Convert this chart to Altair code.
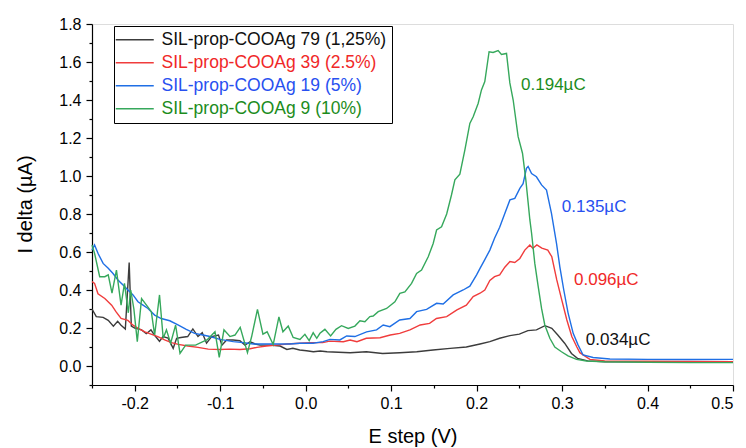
import altair as alt
import pandas as pd

series_names = [
    "SIL-prop-COOAg 79 (1,25%)",
    "SIL-prop-COOAg 39 (2.5%)",
    "SIL-prop-COOAg 19 (5%)",
    "SIL-prop-COOAg 9 (10%)",
]
line_colors = ["#3c3c3c", "#f03c3c", "#1f6fe5", "#36a85c"]
label_colors = ["#111111", "#f02828", "#2850f0", "#1c8c1c"]

black = [(-0.25,0.30),(-0.245,0.26),(-0.237,0.256),(-0.231,0.24),(-0.225,0.21),(-0.22,0.235),(-0.216,0.215),
         (-0.211,0.195),(-0.2065,0.545),(-0.204,0.21),(-0.2,0.2),(-0.192,0.19),(-0.1865,0.17),(-0.181,0.19),
         (-0.177,0.163),(-0.171,0.13),(-0.167,0.155),(-0.161,0.147),(-0.155,0.093),(-0.151,0.146),(-0.146,0.15),
         (-0.138,0.155),(-0.132,0.195),(-0.126,0.155),(-0.121,0.175),(-0.116,0.12),(-0.11,0.155),(-0.102,0.163),
         (-0.098,0.11),(-0.0925,0.137),(-0.085,0.137),(-0.077,0.133),(-0.071,0.11),(-0.065,0.128),(-0.059,0.116),
         (-0.0535,0.11),(-0.042,0.11),(-0.03,0.105),(-0.022,0.087),(-0.015,0.093),(-0.007,0.084),(0.001,0.08),
         (0.009,0.075),(0.017,0.079),(0.025,0.075),(0.052,0.07),(0.071,0.075),(0.09,0.066),(0.11,0.07),
         (0.13,0.075),(0.149,0.084),(0.169,0.093),(0.188,0.10),(0.204,0.116),(0.2155,0.128),(0.227,0.146),
         (0.239,0.16),(0.25,0.168),(0.26,0.186),(0.27,0.19),(0.28,0.212),(0.288,0.198),(0.295,0.163),
         (0.303,0.12),(0.311,0.066),(0.318,0.04),(0.33,0.027),(0.35,0.022),(0.4,0.022),(0.45,0.02),(0.5,0.02)]

red = [(-0.25,0.445),(-0.247,0.435),(-0.243,0.38),(-0.235,0.355),(-0.227,0.32),(-0.222,0.286),(-0.216,0.25),
       (-0.208,0.24),(-0.202,0.215),(-0.196,0.198),(-0.188,0.18),(-0.181,0.168),(-0.173,0.155),(-0.165,0.137),
       (-0.157,0.123),(-0.149,0.114),(-0.138,0.105),(-0.126,0.098),(-0.114,0.089),(-0.1,0.087),(-0.089,0.089),
       (-0.077,0.087),(-0.065,0.091),(-0.057,0.098),(-0.046,0.105),(-0.034,0.11),(-0.022,0.116),(-0.007,0.12),
       (0.005,0.123),(0.02,0.123),(0.028,0.131),(0.044,0.128),(0.052,0.137),(0.06,0.128),(0.071,0.146),
       (0.087,0.149),(0.099,0.163),(0.11,0.172),(0.122,0.19),(0.134,0.216),(0.145,0.224),(0.153,0.25),
       (0.165,0.26),(0.177,0.295),(0.188,0.32),(0.196,0.365),(0.204,0.383),(0.2096,0.4),(0.2155,0.45),
       (0.221,0.47),(0.227,0.48),(0.233,0.52),(0.239,0.55),(0.2447,0.545),(0.2506,0.566),(0.2564,0.61),
       (0.2623,0.637),(0.2658,0.62),(0.2705,0.637),(0.2763,0.62),(0.2833,0.61),(0.288,0.575),(0.2938,0.453),
       (0.2997,0.347),(0.3056,0.242),(0.3114,0.155),(0.3173,0.1),(0.3208,0.07),(0.3325,0.035),(0.35,0.026),
       (0.4,0.025),(0.45,0.024),(0.5,0.023)]

blue = [(-0.25,0.61),(-0.247,0.637),(-0.243,0.593),(-0.237,0.54),(-0.231,0.514),(-0.2254,0.487),(-0.2196,0.453),
        (-0.2137,0.426),(-0.2079,0.4),(-0.202,0.374),(-0.1962,0.338),(-0.1903,0.32),(-0.1845,0.303),(-0.1767,0.268),
        (-0.169,0.25),(-0.159,0.238),(-0.1494,0.216),(-0.1397,0.193),(-0.1299,0.172),(-0.1202,0.163),(-0.112,0.155),
        (-0.1003,0.14),(-0.0847,0.128),(-0.073,0.123),(-0.0613,0.116),(-0.0457,0.116),(-0.03,0.116),(-0.0184,0.116),
        (-0.0067,0.12),(0.0088,0.12),(0.0205,0.128),(0.0284,0.14),(0.04,0.137),(0.048,0.158),(0.0576,0.155),
        (0.0713,0.18),(0.083,0.19),(0.0907,0.216),(0.0985,0.207),(0.11,0.242),(0.122,0.25),(0.1298,0.286),
        (0.1415,0.298),(0.1532,0.33),(0.1609,0.326),(0.1726,0.374),(0.1843,0.4),(0.1921,0.42),(0.2,0.48),
        (0.204,0.514),(0.2096,0.56),(0.2155,0.61),(0.221,0.672),(0.227,0.73),(0.233,0.803),(0.239,0.874),
        (0.2447,0.882),(0.2506,0.935),(0.2544,0.96),(0.2583,1.04),(0.2603,1.05),(0.2643,1.013),(0.27,0.996),
        (0.276,0.953),(0.2818,0.926),(0.2876,0.803),(0.2935,0.645),(0.2974,0.522),(0.302,0.4),(0.307,0.28),
        (0.313,0.172),(0.3188,0.11),(0.3246,0.058),(0.3363,0.045),(0.356,0.037),(0.4,0.035),(0.45,0.034),
        (0.5,0.035)]

green = [(-0.25,0.637),(-0.247,0.593),(-0.241,0.47),(-0.235,0.47),(-0.231,0.48),(-0.2266,0.383),(-0.2214,0.505),
         (-0.216,0.32),(-0.212,0.435),(-0.2075,0.28),(-0.2047,0.4),(-0.201,0.3),(-0.197,0.128),(-0.192,0.355),
         (-0.1845,0.31),(-0.1806,0.286),(-0.1767,0.163),(-0.171,0.374),(-0.1667,0.146),(-0.1629,0.19),
         (-0.158,0.12),(-0.1522,0.215),(-0.147,0.066),(-0.1404,0.11),(-0.1288,0.11),(-0.1202,0.128),
         (-0.1155,0.137),(-0.1061,0.18),(-0.1011,0.045),(-0.0956,0.19),(-0.0886,0.155),(-0.0827,0.163),
         (-0.0766,0.203),(-0.0681,0.07),(-0.0632,0.155),(-0.0564,0.298),(-0.05,0.168),(-0.0451,0.18),
         (-0.038,0.113),(-0.0313,0.258),(-0.0266,0.18),(-0.0204,0.21),(-0.0146,0.15),(-0.0067,0.14),
         (-0.0009,0.167),(0.0041,0.134),(0.0088,0.175),(0.013,0.146),(0.0167,0.172),(0.0225,0.193),
         (0.0292,0.158),(0.0354,0.193),(0.042,0.212),(0.0498,0.198),(0.0576,0.21),(0.0635,0.238),(0.0693,0.233),
         (0.0751,0.26),(0.079,0.263),(0.0849,0.286),(0.0947,0.303),(0.1044,0.338),(0.1102,0.382),(0.1161,0.39),
         (0.1239,0.435),(0.1298,0.487),(0.1356,0.505),(0.1434,0.575),(0.1492,0.645),(0.1532,0.716),
         (0.159,0.733),(0.165,0.8),(0.1706,0.9),(0.1746,0.98),(0.1804,1.01),(0.1863,1.137),(0.1921,1.277),
         (0.196,1.312),(0.2018,1.382),(0.2057,1.453),(0.2096,1.497),(0.2146,1.654),(0.2193,1.65),(0.2252,1.66),
         (0.2291,1.64),(0.235,1.645),(0.2389,1.49),(0.2428,1.4),(0.2486,1.207),(0.2537,1.12),(0.2576,0.98),
         (0.2603,0.86),(0.2623,0.77),(0.2643,0.7),(0.2681,0.54),(0.272,0.42),(0.276,0.303),(0.2798,0.216),
         (0.2857,0.146),(0.2915,0.1),(0.2993,0.075),(0.307,0.053),(0.3169,0.035),(0.3285,0.026),(0.35,0.022),
         (0.4,0.02),(0.45,0.018),(0.5,0.018)]

ann_text = ["0.194µC", "0.135µC", "0.096µC", "0.034µC"]
ann_x = [0.252, 0.2997, 0.314, 0.3278]
ann_y = [1.479, 0.837, 0.453, 0.137]
ann_colors = [label_colors[3], label_colors[2], label_colors[1], label_colors[0]]

x_major = [-0.2, -0.1, 0.0, 0.1, 0.2, 0.3, 0.4, 0.5]
x_minor = [-0.25, -0.15, -0.05, 0.05, 0.15, 0.25, 0.35, 0.45]
y_major = [0.0, 0.2, 0.4, 0.6, 0.8, 1.0, 1.2, 1.4, 1.6, 1.8]
y_minor = [-0.1, 0.1, 0.3, 0.5, 0.7, 0.9, 1.1, 1.3, 1.5, 1.7]

rows = []
for name, pts in zip(series_names, [black, red, blue, green]):
    for i, (xv, yv) in enumerate(pts):
        rows.append({"series": name, "E": xv, "I": yv, "k": i})
df = pd.DataFrame(rows)
ann_df = pd.DataFrame({"E": ann_x, "I": ann_y, "t": ann_text, "c": ann_colors})

FONT = "Liberation Sans"
MINUS = "\u2212"

common = dict(grid=False, domainColor="black", tickColor="black", domainWidth=1.2, tickWidth=1.2,
              labelColor="black", labelFont=FONT, labelFontSize=16, labelOverlap=False,
              titleFont=FONT, titleFontSize=20, titleFontWeight="normal", titleColor="black")

x_axis = alt.Axis(
    values=x_major, format=".1f", labelExpr=f"replace(datum.label, '{MINUS}', '-')",
    tickSize=6, labelPadding=4, orient="bottom",
    titleBaseline="middle", titleY=51, **common,
)
y_axis = alt.Axis(
    values=y_major, format=".1f", labelExpr=f"replace(datum.label, '{MINUS}', '-')",
    tickSize=6, labelPadding=5, orient="left",
    titleBaseline="middle", titleX=-67, titleY=180, **common,
)
x_axis_minor = alt.Axis(values=x_minor, tickSize=3, tickWidth=1.2, tickColor="black", labels=False,
                        domain=False, grid=False, title=None, orient="bottom")
y_axis_minor = alt.Axis(values=y_minor, tickSize=3, tickWidth=1.2, tickColor="black", labels=False,
                        domain=False, grid=False, title=None, orient="left")

color_expr = " : ".join(
    f"datum.value === '{n}' ? '{c}'" for n, c in zip(series_names, label_colors)
) + " : 'black'"

legend = alt.Legend(
    title=None, orient="none", legendX=22, legendY=2,
    symbolType="M-2.4,0H5.2", symbolSize=100, symbolStrokeWidth=1.4,
    labelFont=FONT, labelFontSize=17.5, labelOffset=25, labelLimit=400,
    labelColor=alt.ExprRef(color_expr),
    padding=5, rowPadding=4, strokeColor="black", fillColor="white",
)

xs = alt.Scale(domain=[-0.25, 0.5], nice=False, zero=False)
ys = alt.Scale(domain=[-0.1, 1.8], nice=False, zero=False)

lines = alt.Chart(df).mark_line(strokeWidth=1.4).encode(
    x=alt.X("E:Q", scale=xs, axis=x_axis, title="E step (V)"),
    y=alt.Y("I:Q", scale=ys, axis=y_axis, title="I delta (µA)"),
    color=alt.Color("series:N", scale=alt.Scale(domain=series_names, range=line_colors), legend=legend),
    order="k:Q",
)

minor = alt.Chart(ann_df).mark_point(opacity=0).encode(
    x=alt.X("E:Q", scale=xs, axis=x_axis_minor),
    y=alt.Y("I:Q", scale=ys, axis=y_axis_minor),
)

texts = alt.Chart(ann_df).mark_text(align="left", baseline="middle", font=FONT, fontSize=17).encode(
    x=alt.X("E:Q", scale=xs, axis=None),
    y=alt.Y("I:Q", scale=ys, axis=None),
    text="t:N",
    color=alt.Color("c:N", scale=None),
)

chart = alt.layer(lines, minor, texts).resolve_axis(x="independent", y="independent").properties(
    width=641, height=361,
    autosize=alt.AutoSizeParams(type="none"),
    padding={"left": 84, "top": 16, "right": 5, "bottom": 63},
).configure_view(strokeWidth=0).configure(background="white")

chart.save("out.html", embed_options={"renderer": "svg", "actions": False})
